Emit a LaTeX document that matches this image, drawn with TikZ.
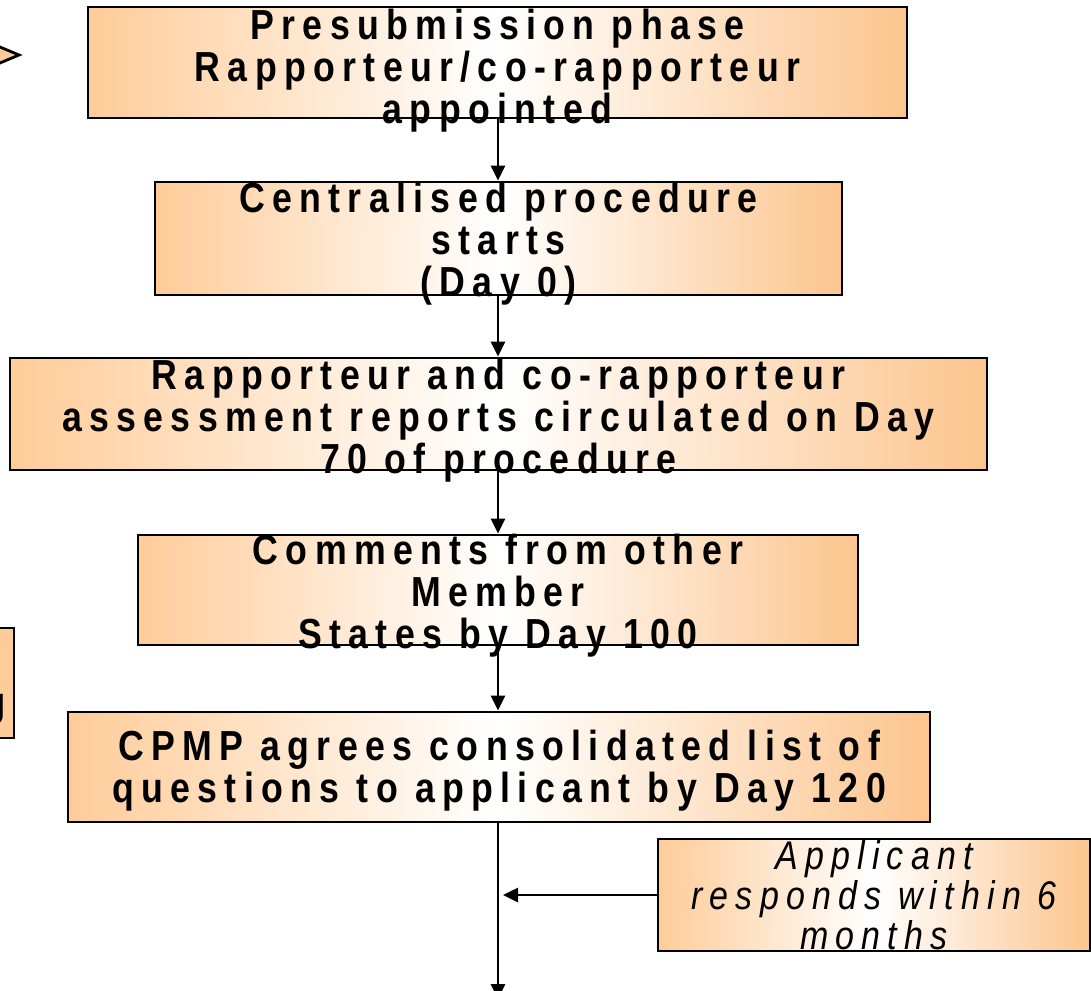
\documentclass[tikz,border=0pt]{standalone}
\usepackage{fontspec}
\setmainfont{Liberation Sans}
% narrow, tracked faces for the stage boxes and the side note
\newfontfamily\stagefont{Liberation Sans}[FakeStretch=0.85, LetterSpace=17.5]
\newfontfamily\notefont{Liberation Sans}[FakeStretch=0.85, LetterSpace=18]
\usetikzlibrary{arrows.meta}
\definecolor{peach}{RGB}{255,204,153}
\definecolor{peachdark}{RGB}{252,197,142}

\begin{document}
\begin{tikzpicture}[x=1pt,y=-1pt,
  stagebox/.style={draw=black, line width=2.8pt, inner sep=0pt,
    left color=peach, right color=peachdark, middle color=white},
  stagetext/.style={align=center, inner sep=0pt,
    font=\stagefont\bfseries\fontsize{42}{42}\selectfont},
  notetext/.style={align=center, inner sep=0pt,
    font=\notefont\itshape\fontsize{40}{40}\selectfont},
  flow/.style={line width=2.6pt, -{Triangle[length=15pt,width=14pt]}}]

% page frame
\clip (0,0) rectangle (1091,990);

% shapes cut off at the left edge
\filldraw[line width=2.8pt, fill=peach, line join=miter]
  (-30,34.4) -- (19,55) -- (-30,75.6) -- cycle;
\node[draw=black, line width=2.8pt, fill=peach, outer sep=0pt, inner sep=0pt,
  minimum width=60pt, minimum height=110pt, anchor=north east] (sidebox) at (14,628) {};
\node[font=\bfseries\fontsize{42}{42}\selectfont, inner sep=0pt, anchor=base east]
  (sidecut) at (6,716) {g};

% stage boxes
\node[stagebox, minimum width=819pt, minimum height=111pt] (b1) at (497.5,62.5) {};
\node[stagebox, minimum width=687pt, minimum height=113pt] (b2) at (498.5,238.5) {};
\node[stagebox, minimum width=977pt, minimum height=112pt] (b3) at (498.5,414) {};
\node[stagebox, minimum width=720pt, minimum height=110pt] (b4) at (498,590) {};
\node[stagebox, minimum width=862pt, minimum height=110pt] (b5) at (499,767) {};
\node[stagebox, minimum width=432pt, minimum height=112pt] (b6) at (874,895) {};

% box texts
\node[stagetext] (t1) at ([yshift=-8pt]b1) {Presubmission phase\\Rapporteur/co-rapporteur\\appointed};
\node[stagetext] (t2) at ([yshift=-5pt]b2) {Centralised procedure\\starts\\(Day 0)};
\node[stagetext] (t3) at ([yshift=-7pt]b3) {Rapporteur and co-rapporteur\\assessment reports circulated on Day\\70 of procedure};
\node[stagetext] (t4) at ([yshift=-6pt]b4) {Comments from other\\Member\\States by Day 100};
\node[stagetext] (t5) at ([yshift=-4pt]b5) {CPMP agrees consolidated list of\\questions to applicant by Day 120};
\node[notetext] (t6) at (b6) {Applicant\\responds within 6\\months};

% connectors along the central spine
\coordinate (spine) at (498,0);
\coordinate (out) at (498,999);
\draw[flow] (b1.south -| spine) -- (b2.north -| spine);
\draw[flow] (b2.south -| spine) -- (b3.north -| spine);
\draw[flow] (b3.south -| spine) -- (b4.north -| spine);
\draw[flow] (b4.south -| spine) -- (b5.north -| spine);
\draw[flow] (b5.south -| spine) -- (out);
\draw[flow, shorten >=5pt] (b6.west) -- (b6.west -| spine);
\end{tikzpicture}
\end{document}
